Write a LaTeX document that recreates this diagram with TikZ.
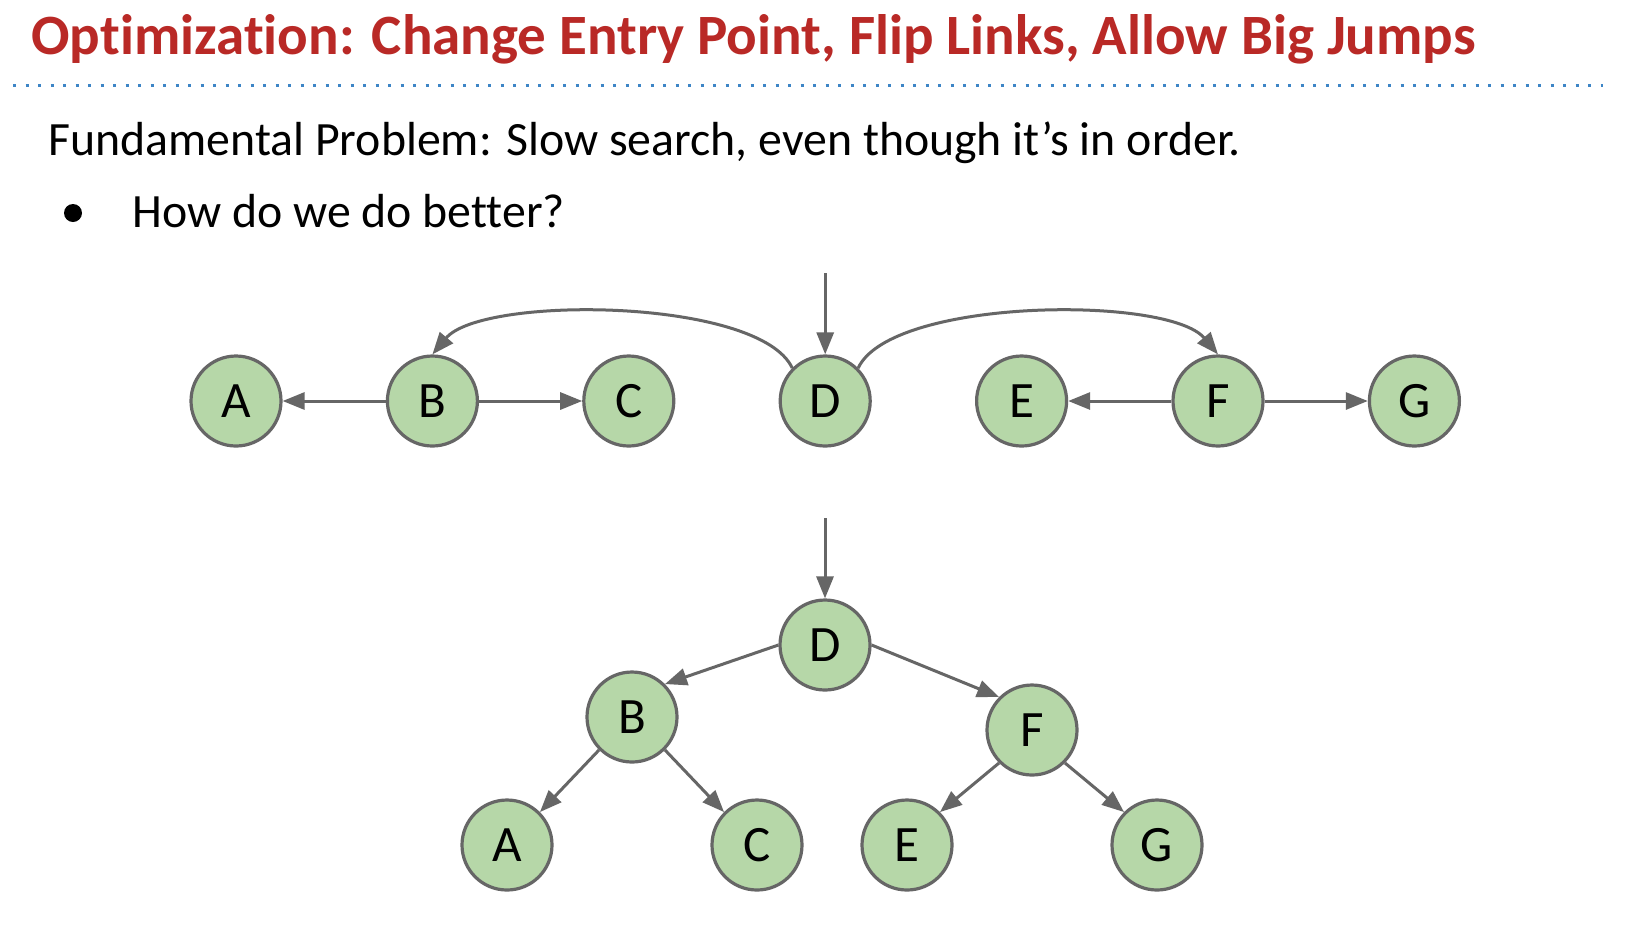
\documentclass[tikz,border=0pt]{standalone}
\usepackage{fontspec}
\setmainfont{Carlito}[Ligatures=NoCommon]
\usetikzlibrary{arrows.meta}
\definecolor{titlered}{RGB}{185,41,38}
\definecolor{dotblue}{RGB}{61,133,198}
\definecolor{keygreen}{HTML}{B6D7A8}
\definecolor{linkgray}{HTML}{666666}
\begin{document}
\begin{tikzpicture}[
    x=0.5pt, y=-0.5pt,
    key/.style = {circle, draw=linkgray, line width=1.6pt, fill=keygreen,
      minimum size=45pt, inner sep=0pt, font=\fontsize{25.5}{30}\selectfont},
    link/.style = {draw=linkgray, line width=1.5pt,
      -{Triangle[length=11pt, width=8.5pt]}},
    words/.style = {anchor=base west, inner sep=0pt, font=\fontsize{23.9}{28}\selectfont}
  ]
    %%+++++++++++++++++++++++++
    % Variables
    % Slide
    \pgfmathsetmacro{\Lslide}{1638}
    \pgfmathsetmacro{\Hslide}{928}
    % Row of keys
    \pgfmathsetmacro{\dkey}{196.4}
    \pgfmathsetmacro{\xrow}{236}
    \pgfmathsetmacro{\yrow}{401}
    % Tree of keys
    \pgfmathsetmacro{\xroot}{825}
    \pgfmathsetmacro{\yroot}{645}
    \pgfmathsetmacro{\ymid}{717}
    \pgfmathsetmacro{\yleaf}{845}
    %%+++++++++++++++++++++++++
    % Drawing
    \fill[white] (0,0) rectangle (\Lslide,\Hslide);
    \useasboundingbox (0,0) rectangle (\Lslide,\Hslide);
    % Heading
    \node[words, text=titlered, font=\bfseries\fontsize{28.5}{33}\selectfont] (title) at (31,54)
      {Optimization: Change Entry Point, Flip Links, Allow Big Jumps};
    \draw[dotblue, line width=1.5pt, dash pattern=on 1.5pt off 4.75pt] (13,85) -- (1603,85);
    % Text
    \node[words] (problem) at (48,155) {Fundamental Problem: Slow search, even though it’s in order.};
    \fill (73,213) circle (4.5pt);
    \node[words] (better) at (132,227) {How do we do better?};
    % Keys in a row
    \node[key] (Aline) at (\xrow, \yrow) {A};
    \node[key] (Bline) at (\xrow + \dkey, \yrow) {B};
    \node[key] (Cline) at (\xrow + 2*\dkey, \yrow) {C};
    \node[key] (Dline) at (\xrow + 3*\dkey, \yrow) {D};
    \node[key] (Eline) at (\xrow + 4*\dkey, \yrow) {E};
    \node[key] (Fline) at (\xrow + 5*\dkey, \yrow) {F};
    \node[key] (Gline) at (\xrow + 6*\dkey, \yrow) {G};
    \coordinate (entryline) at (\xrow + 3*\dkey, 273);
    \draw[link] (entryline) -- (Dline.north);
    \draw[link] (Bline.west) -- (Aline.east);
    \draw[link] (Bline.east) -- (Cline.west);
    \draw[link] (Fline.west) -- (Eline.east);
    \draw[link] (Fline.east) -- (Gline.west);
    \draw[link] (Dline.north west) to[out=115, in=50, looseness=0.55] (Bline.north);
    \draw[link] (Dline.north east) to[out=65, in=130, looseness=0.55] (Fline.north);
    % Keys in a tree
    \node[key] (Dtree) at (\xroot, \yroot) {D};
    \node[key] (Btree) at (632, \ymid) {B};
    \node[key] (Ftree) at (1032, 730) {F};
    \node[key] (Atree) at (507, \yleaf) {A};
    \node[key] (Ctree) at (757, \yleaf) {C};
    \node[key] (Etree) at (907, \yleaf) {E};
    \node[key] (Gtree) at (1157, \yleaf) {G};
    \coordinate (entrytree) at (\xroot, 518);
    \draw[link] (entrytree) -- (Dtree.north);
    \draw[link] (Dtree.west) -- (Btree.north east);
    \draw[link] (Dtree.east) -- (Ftree.north west);
    \draw[link] (Btree.south west) -- (Atree.north east);
    \draw[link] (Btree.south east) -- (Ctree.north west);
    \draw[link] (Ftree.south west) -- (Etree.north east);
    \draw[link] (Ftree.south east) -- (Gtree.north west);
\end{tikzpicture}
\end{document}
